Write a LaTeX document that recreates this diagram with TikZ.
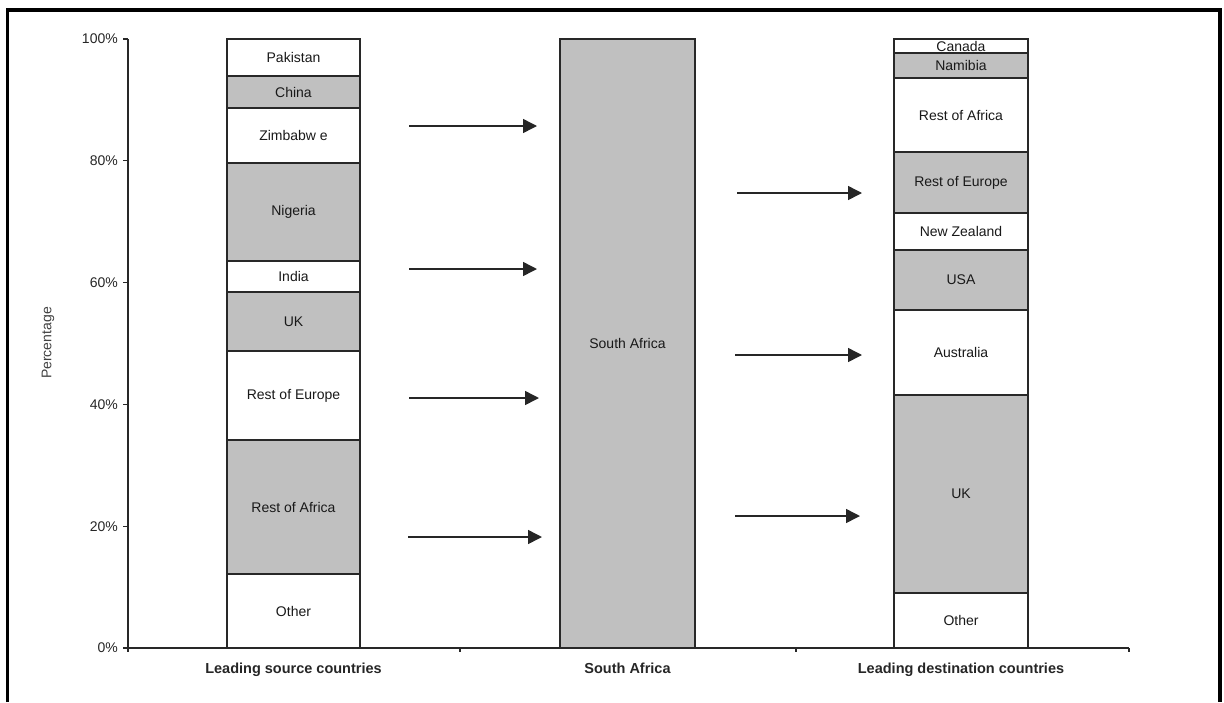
\documentclass[tikz,border=0pt]{standalone}
\usepackage{fontspec}
\setmainfont{Liberation Sans}
\usetikzlibrary{arrows.meta}
\definecolor{barfill}{RGB}{192,192,192}
\definecolor{edge}{RGB}{40,40,40}
\tikzset{
  seg/.style={draw=edge, line width=1.3pt, rectangle, inner sep=0pt,
    font=\fontsize{14}{16}\selectfont, text=black!90},
  lbar/.style={seg, minimum width=133pt},
  mbar/.style={seg, minimum width=135pt},
  rbar/.style={seg, minimum width=134pt},
  shade/.style={fill=barfill},
  plain/.style={fill=white},
  axisline/.style={draw=edge, line width=1.3pt},
  ticklabel/.style={anchor=east, inner sep=0pt, font=\fontsize{14}{16}\selectfont, text=black!85},
  catlabel/.style={anchor=base, inner sep=0pt, font=\fontsize{14.5}{16}\selectfont\bfseries, text=black!85},
  flow/.style={draw=black!85, line width=1.5pt, -{Triangle[length=14pt,width=14pt]}}
}
\begin{document}
\begin{tikzpicture}[x=1pt, y=-1pt]
\useasboundingbox (0,0) rectangle (1224,702);

% outer frame, open at the bottom
\draw[line width=3.5pt] (7.5,702) -- (7.5,10) -- (1220,10) -- (1220,702);

% axes
\draw[axisline] (128,39) -- (128,648) -- (1129,648);
\foreach \y in {39,160.8,282.6,404.4,526.2,648}
  \draw[axisline] (123,\y) -- (128,\y);
\foreach \x in {128,460,796,1129}
  \draw[axisline] (\x,648) -- (\x,652);
\node[ticklabel] (t100) at (118,39) {100\%};
\node[ticklabel] (t80) at (118,160.8) {80\%};
\node[ticklabel] (t60) at (118,282.6) {60\%};
\node[ticklabel] (t40) at (118,404.4) {40\%};
\node[ticklabel] (t20) at (118,526.2) {20\%};
\node[ticklabel] (t0) at (118,648) {0\%};
\node[rotate=90, inner sep=0pt, font=\fontsize{14}{16}\selectfont, text=black!75] (ylab) at (48,343) {Percentage};

% leading source countries
\node[lbar, plain, minimum height=37pt] (sPak) at (293.5,57.5) {Pakistan};
\node[lbar, shade, minimum height=32pt] (sChn) at (293.5,92) {China};
\node[lbar, plain, minimum height=55pt] (sZim) at (293.5,135.5) {Zimbabw e};
\node[lbar, shade, minimum height=98pt] (sNga) at (293.5,212) {Nigeria};
\node[lbar, plain, minimum height=31pt] (sInd) at (293.5,276.5) {India};
\node[lbar, shade, minimum height=59pt] (sUK) at (293.5,321.5) {UK};
\node[lbar, plain, minimum height=89pt] (sEur) at (293.5,395.5) {Rest of Europe};
\node[lbar, shade, minimum height=134pt] (sAfr) at (293.5,507) {Rest of Africa};
\node[lbar, plain, minimum height=74pt] (sOth) at (293.5,611) {Other};

% South Africa
\node[mbar, shade, minimum height=609pt] (za) at (627.5,343.5) {South Africa};

% leading destination countries
\node[rbar, plain, minimum height=14pt] (dCan) at (961,46) {Canada};
\node[rbar, shade, minimum height=25pt] (dNam) at (961,65.5) {Namibia};
\node[rbar, plain, minimum height=74pt] (dAfr) at (961,115) {Rest of Africa};
\node[rbar, shade, minimum height=61pt] (dEur) at (961,182.5) {Rest of Europe};
\node[rbar, plain, minimum height=37pt] (dNZ) at (961,231.5) {New Zealand};
\node[rbar, shade, minimum height=60pt] (dUSA) at (961,280) {USA};
\node[rbar, plain, minimum height=85pt] (dAus) at (961,352.5) {Australia};
\node[rbar, shade, minimum height=198pt] (dUK) at (961,494) {UK};
\node[rbar, plain, minimum height=55pt] (dOth) at (961,620.5) {Other};

% category labels
\node[catlabel] (cSrc) at (293.5,673) {Leading source countries};
\node[catlabel] (cZA) at (627.5,673) {South Africa};
\node[catlabel] (cDst) at (961,673) {Leading destination countries};

% inflow arrows
\coordinate (in1a) at (409,126);   \coordinate (in1b) at (537,126);
\coordinate (in2a) at (409,269);   \coordinate (in2b) at (537,269);
\coordinate (in3a) at (409,398);   \coordinate (in3b) at (539,398);
\coordinate (in4a) at (408,537);   \coordinate (in4b) at (542,537);
\draw[flow] (in1a) -- (in1b);
\draw[flow] (in2a) -- (in2b);
\draw[flow] (in3a) -- (in3b);
\draw[flow] (in4a) -- (in4b);

% outflow arrows
\coordinate (out1a) at (737,193);  \coordinate (out1b) at (862,193);
\coordinate (out2a) at (735,355);  \coordinate (out2b) at (862,355);
\coordinate (out3a) at (735,516);  \coordinate (out3b) at (860,516);
\draw[flow] (out1a) -- (out1b);
\draw[flow] (out2a) -- (out2b);
\draw[flow] (out3a) -- (out3b);
\end{tikzpicture}
\end{document}
